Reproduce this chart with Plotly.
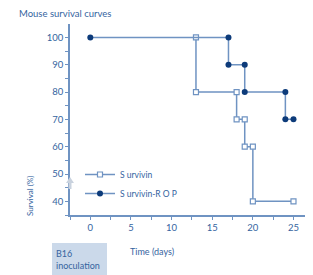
import plotly.graph_objects as go

# Data
survivin_days = [13, 13, 18, 18, 19, 19, 20, 20, 25]
survivin_pct = [100, 80, 80, 70, 70, 60, 60, 40, 40]
rop_days = [0, 17, 17, 19, 19, 24, 24, 25]
rop_pct = [100, 100, 90, 90, 80, 80, 70, 70]
x_ticks = [0, 5, 10, 15, 20, 25]
y_ticks = [40, 50, 60, 70, 80, 90, 100]

LINE = "#6f93c2"
DARK = "#0d3b7a"
TXT = "#3564a0"
FONT = "Lato"

OFF = 8  # default page body margin
W, H = 313 - OFF, 275 - OFF
# plot area in page pixels: x 70..313, y 24..215
L, R, T, B = 70 - OFF, 0, 24 - OFF, 275 - 215
pw, ph = W - L - R, H - T - B

def px(x):
    return (x - OFF - L) / pw

def py(y):
    return (H - B - (y - OFF)) / ph

fig = go.Figure()
fig.add_trace(go.Scatter(
    x=survivin_days, y=survivin_pct, mode="lines+markers", name="S urvivin",
    line=dict(color=LINE, width=1.5),
    marker=dict(symbol="square", size=5, color="white", line=dict(color=LINE, width=1.2)),
))
fig.add_trace(go.Scatter(
    x=rop_days, y=rop_pct, mode="lines+markers", name="S urvivin-R O P",
    line=dict(color=LINE, width=1.5),
    marker=dict(symbol="circle", size=6, color=DARK, line=dict(color=DARK, width=0)),
))

def path(points):
    return "M " + " L ".join(f"{px(a):.5f},{py(b):.5f}" for a, b in points) + " Z"

shapes = [
    # B16 box
    dict(type="rect", xref="paper", yref="paper", x0=px(52), x1=px(107), y0=py(275), y1=py(243),
         fillcolor="#cbd9ea", line=dict(width=0), layer="below"),
    # grey arrow on y axis
    dict(type="path", xref="paper", yref="paper",
         path=path([(66, 183), (70, 177), (74, 183), (71.5, 183), (71.5, 189), (68.5, 189), (68.5, 183)]),
         fillcolor="#c9d2de", line=dict(width=0), layer="above"),
]

annotations = [
    dict(text="Mouse survival curves", xref="paper", yref="paper", x=px(17), y=py(13),
         xanchor="left", yanchor="middle", showarrow=False, font=dict(size=9.5, color=TXT, family=FONT)),
    dict(text="Survival (%)", xref="paper", yref="paper", x=px(30), y=py(196),
         xanchor="center", yanchor="middle", textangle=-90, showarrow=False,
         font=dict(size=8, color=TXT, family=FONT)),
    dict(text="Time (days)", xref="paper", yref="paper", x=px(152), y=py(251),
         xanchor="center", yanchor="middle", showarrow=False, font=dict(size=9, color=TXT, family=FONT)),
    dict(text="B16<br>inoculation", xref="paper", yref="paper", x=px(54), y=py(259),
         xanchor="left", yanchor="middle", align="left", showarrow=False,
         font=dict(size=9, color=TXT, family=FONT)),
]

fig.update_layout(
    width=W, height=H,
    margin=dict(l=L, r=R, t=T, b=B),
    paper_bgcolor="white", plot_bgcolor="white",
    font=dict(family=FONT, color=TXT, size=9),
    shapes=shapes, annotations=annotations,
    showlegend=True,
    legend=dict(x=px(80), y=py(160), xanchor="left", yanchor="top", bgcolor="rgba(0,0,0,0)",
                font=dict(size=8.5, color=TXT, family=FONT), itemwidth=30, tracegroupgap=0),
    xaxis=dict(range=[-2.5, 27.4], tickvals=x_ticks, showgrid=False, zeroline=False,
               showline=True, linecolor=LINE, linewidth=1.5, ticks="outside", ticklen=3,
               tickcolor=LINE, tickfont=dict(size=9.5, color=TXT, family=FONT),
               minor=dict(dtick=2.5, tick0=0, ticks="outside", ticklen=3, tickcolor=LINE, showgrid=False)),
    yaxis=dict(range=[35, 104.9], tickvals=y_ticks, showgrid=False, zeroline=False,
               showline=True, linecolor=LINE, linewidth=1.5, ticks="outside", ticklen=3,
               tickcolor=LINE, tickfont=dict(size=9.5, color=TXT, family=FONT),
               minor=dict(dtick=5, tick0=0, ticks="outside", ticklen=3, tickcolor=LINE, showgrid=False)),
)

fig.write_html("out.html")
